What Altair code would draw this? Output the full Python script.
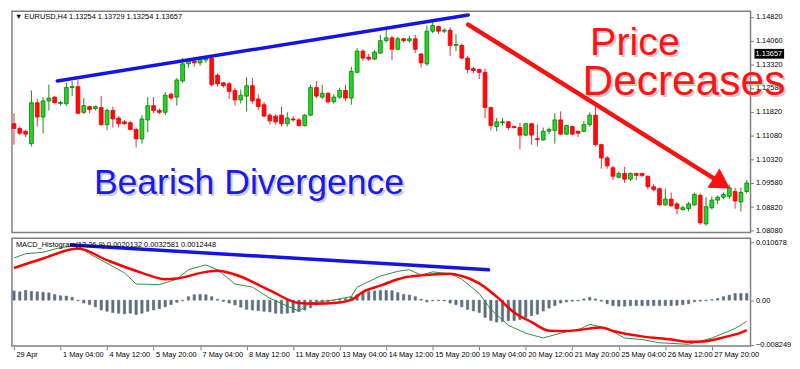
import altair as alt
import pandas as pd

# ---------------- data ----------------
bars = list(range(127))

opens = [1.1145, 1.1130, 1.1121, 1.1082, 1.1211, 1.1166, 1.1217, 1.1229, 1.1209, 1.1208,
         1.1259, 1.1262, 1.1181, 1.1199, 1.1193, 1.1196, 1.1142, 1.1187, 1.1163, 1.1151,
         1.1148, 1.1127, 1.1097, 1.1157, 1.1202, 1.1187, 1.1181, 1.1238, 1.1229, 1.1280,
         1.1334, 1.1343, 1.1337, 1.1346, 1.1352, 1.1298, 1.1274, 1.1271, 1.1250, 1.1220,
         1.1232, 1.1265, 1.1223, 1.1205, 1.1172, 1.1169, 1.1172, 1.1145, 1.1160, 1.1157,
         1.1139, 1.1172, 1.1259, 1.1229, 1.1241, 1.1214, 1.1229, 1.1250, 1.1226, 1.1307,
         1.1374, 1.1355, 1.1349, 1.1368, 1.1407, 1.1416, 1.1380, 1.1413, 1.1407, 1.1413,
         1.1365, 1.1334, 1.1437, 1.1452, 1.1437, 1.1440, 1.1392, 1.1392, 1.1352, 1.1319,
         1.1316, 1.1307, 1.1196, 1.1136, 1.1148, 1.1151, 1.1136, 1.1133, 1.1109, 1.1145,
         1.1098, 1.1094, 1.1121, 1.1124, 1.1157, 1.1112, 1.1136, 1.1121, 1.1121, 1.1142,
         1.1172, 1.1079, 1.1037, 1.1006, 1.0976, 1.0988, 1.0970, 1.0988, 1.0988, 1.0979,
         1.0946, 1.0940, 1.0889, 1.0907, 1.0892, 1.0874, 1.0877, 1.0889, 1.0919, 1.0829,
         1.0880, 1.0904, 1.0913, 1.0916, 1.0931, 1.0898, 1.0931]
highs = [1.1178, 1.1136, 1.1127, 1.1250, 1.1223, 1.1229, 1.1268, 1.1232, 1.1217, 1.1274,
         1.1280, 1.1283, 1.1226, 1.1202, 1.1202, 1.1232, 1.1193, 1.1199, 1.1169, 1.1157,
         1.1154, 1.1133, 1.1172, 1.1229, 1.1229, 1.1193, 1.1244, 1.1244, 1.1289, 1.1352,
         1.1352, 1.1349, 1.1355, 1.1359, 1.1359, 1.1304, 1.1277, 1.1277, 1.1259, 1.1253,
         1.1292, 1.1289, 1.1238, 1.1214, 1.1178, 1.1175, 1.1199, 1.1181, 1.1169, 1.1163,
         1.1175, 1.1268, 1.1280, 1.1268, 1.1244, 1.1238, 1.1259, 1.1268, 1.1325, 1.1383,
         1.1380, 1.1365, 1.1377, 1.1425, 1.1443, 1.1422, 1.1419, 1.1416, 1.1422, 1.1425,
         1.1368, 1.1455, 1.1467, 1.1455, 1.1446, 1.1449, 1.1428, 1.1398, 1.1359, 1.1325,
         1.1319, 1.1319, 1.1199, 1.1163, 1.1163, 1.1154, 1.1139, 1.1148, 1.1148, 1.1148,
         1.1142, 1.1133, 1.1133, 1.1178, 1.1184, 1.1142, 1.1139, 1.1124, 1.1154, 1.1181,
         1.1208, 1.1082, 1.1043, 1.1012, 1.0994, 1.1009, 1.0991, 1.0990, 1.0990, 1.0982,
         1.0955, 1.0943, 1.0940, 1.0928, 1.0898, 1.0886, 1.0898, 1.0928, 1.0925, 1.0913,
         1.0916, 1.0919, 1.0928, 1.0952, 1.0943, 1.0943, 1.0967]
lows = [1.1079, 1.1109, 1.1103, 1.1073, 1.1136, 1.1115, 1.1187, 1.1208, 1.1202, 1.1202,
        1.1232, 1.1175, 1.1175, 1.1178, 1.1187, 1.1139, 1.1124, 1.1133, 1.1133, 1.1142,
        1.1124, 1.1070, 1.1082, 1.1118, 1.1178, 1.1175, 1.1172, 1.1220, 1.1202, 1.1274,
        1.1322, 1.1325, 1.1328, 1.1337, 1.1262, 1.1262, 1.1259, 1.1223, 1.1202, 1.1208,
        1.1184, 1.1208, 1.1187, 1.1166, 1.1142, 1.1142, 1.1136, 1.1136, 1.1151, 1.1136,
        1.1136, 1.1169, 1.1226, 1.1223, 1.1208, 1.1208, 1.1223, 1.1217, 1.1205, 1.1304,
        1.1343, 1.1343, 1.1346, 1.1365, 1.1401, 1.1346, 1.1377, 1.1401, 1.1401, 1.1368,
        1.1322, 1.1328, 1.1431, 1.1428, 1.1431, 1.1359, 1.1374, 1.1349, 1.1304, 1.1304,
        1.1286, 1.1163, 1.1124, 1.1121, 1.1139, 1.1124, 1.1130, 1.1064, 1.1106, 1.1079,
        1.1073, 1.1091, 1.1112, 1.1082, 1.1109, 1.1109, 1.1109, 1.1103, 1.1118, 1.1136,
        1.1073, 1.1003, 1.1003, 1.0967, 1.0973, 1.0958, 1.0964, 1.0967, 1.0976, 1.0937,
        1.0931, 1.0886, 1.0886, 1.0883, 1.0859, 1.0871, 1.0868, 1.0886, 1.0826, 1.0823,
        1.0874, 1.0892, 1.0907, 1.0907, 1.0877, 1.0868, 1.0925]
closes = [1.1130, 1.1115, 1.1112, 1.1211, 1.1166, 1.1217, 1.1226, 1.1211, 1.1212, 1.1259,
          1.1262, 1.1178, 1.1202, 1.1190, 1.1199, 1.1142, 1.1187, 1.1160, 1.1145, 1.1145,
          1.1127, 1.1097, 1.1160, 1.1202, 1.1187, 1.1181, 1.1235, 1.1226, 1.1283, 1.1334,
          1.1343, 1.1337, 1.1349, 1.1352, 1.1268, 1.1271, 1.1265, 1.1247, 1.1220, 1.1235,
          1.1265, 1.1217, 1.1199, 1.1169, 1.1154, 1.1151, 1.1145, 1.1163, 1.1157, 1.1139,
          1.1172, 1.1259, 1.1232, 1.1241, 1.1214, 1.1229, 1.1250, 1.1226, 1.1310, 1.1374,
          1.1352, 1.1349, 1.1371, 1.1407, 1.1416, 1.1380, 1.1413, 1.1407, 1.1413, 1.1380,
          1.1337, 1.1437, 1.1455, 1.1437, 1.1440, 1.1392, 1.1395, 1.1352, 1.1316, 1.1313,
          1.1307, 1.1196, 1.1139, 1.1151, 1.1151, 1.1133, 1.1133, 1.1109, 1.1145, 1.1109,
          1.1095, 1.1121, 1.1127, 1.1157, 1.1112, 1.1139, 1.1112, 1.1115, 1.1142, 1.1172,
          1.1079, 1.1037, 1.1012, 1.0979, 1.0988, 1.0970, 1.0988, 1.0982, 1.0982, 1.0946,
          1.0937, 1.0889, 1.0907, 1.0886, 1.0877, 1.0880, 1.0892, 1.0922, 1.0832, 1.0883,
          1.0904, 1.0913, 1.0922, 1.0943, 1.0901, 1.0928, 1.0958]

hist = [0.00170, 0.00153, 0.00181, 0.00163, 0.00153, 0.00146, 0.00135, 0.00105, 0.00082, 0.00075,
        0.00053, -0.00009, -0.00053, -0.00082, -0.00123, -0.00181, -0.00205, -0.00228, -0.00240, -0.00251,
        -0.00240, -0.00263, -0.00240, -0.00205, -0.00181, -0.00158, -0.00123, -0.00082, -0.00040, -0.00009,
        0.00065, 0.00100, 0.00105, 0.00100, 0.00065, 0.00018, -0.00023, -0.00053, -0.00088, -0.00128,
        -0.00170, -0.00181, -0.00193, -0.00205, -0.00216, -0.00240, -0.00245, -0.00240, -0.00228, -0.00210,
        -0.00181, -0.00140, -0.00088, -0.00053, -0.00030, -0.00009, 0.00018, 0.00030, 0.00065, 0.00100,
        0.00135, 0.00158, 0.00170, 0.00181, 0.00181, 0.00175, 0.00140, 0.00105, 0.00093, 0.00065,
        0.00018, -0.00030, -0.00012, -0.00009, -0.00012, -0.00053, -0.00082, -0.00123, -0.00170, -0.00198,
        -0.00228, -0.00316, -0.00373, -0.00403, -0.00391, -0.00380, -0.00373, -0.00356, -0.00316, -0.00286,
        -0.00258, -0.00198, -0.00146, -0.00100, -0.00053, -0.00030, -0.00018, -0.00012, 0.00023, 0.00053,
        0.00023, -0.00018, -0.00065, -0.00100, -0.00110, -0.00110, -0.00100, -0.00100, -0.00100, -0.00100,
        -0.00100, -0.00100, -0.00100, -0.00100, -0.00093, -0.00082, -0.00065, -0.00030, -0.00018, -0.00012,
        0.00012, 0.00030, 0.00065, 0.00093, 0.00123, 0.00123, 0.00123]

macd_bars = [0, 2, 5, 8, 11, 13, 16, 19, 21, 25, 28, 30, 33, 35, 38, 41, 44, 47, 49, 51,
             55, 58, 59, 63, 66, 68, 70, 72, 75, 77, 80, 82, 85, 88, 91, 93, 95, 97, 99, 102,
             105, 108, 111, 116, 118, 120, 124, 126]
macd_vals = [0.00777, 0.00854, 0.00882, 0.00969, 0.00999, 0.00854, 0.00678, 0.00503, 0.00298, 0.00286,
             0.00386, 0.00561, 0.00649, 0.00561, 0.00298, 0.00240, 0.00035, -0.00110, -0.00198, -0.00053,
             0.00005, 0.00065, 0.00240, 0.00444, 0.00531, 0.00561, 0.00461, 0.00521, 0.00486, 0.00386,
             0.00123, -0.00170, -0.00461, -0.00608, -0.00696, -0.00636, -0.00578, -0.00549, -0.00444, -0.00521,
             -0.00696, -0.00724, -0.00784, -0.00812, -0.00754, -0.00696, -0.00521, -0.00391]

signal_bars = [0, 5, 11, 16, 22, 26, 28, 33, 35, 38, 44, 49, 52, 55, 58, 60, 63, 66, 67, 70,
               75, 77, 80, 83, 86, 89, 92, 95, 97, 101, 103, 108, 113, 116, 119, 122, 125, 126]
signal_vals = [0.00591, 0.00766, 0.00952, 0.00736, 0.00503, 0.00386, 0.00398, 0.00521, 0.00543, 0.00473,
               0.00181, -0.00053, -0.00065, -0.00053, 0.00005, 0.00153, 0.00268, 0.00386, 0.00415, 0.00456,
               0.00486, 0.00444, 0.00310, 0.00065, -0.00228, -0.00403, -0.00561, -0.00566, -0.00549, -0.00503,
               -0.00566, -0.00666, -0.00724, -0.00766, -0.00754, -0.00684, -0.00596, -0.00549]

price_ticks = [1.14820, 1.14060, 1.13320, 1.12580, 1.11820, 1.11080, 1.10320, 1.09580, 1.08820, 1.08080]
macd_ticks = [0.010678, 0.0, -0.008249]
time_tick_bars = [0, 8, 16, 24, 32, 40, 48, 56, 64, 72, 80, 88, 96, 104, 112, 120]
time_labels = ["29 Apr", "1 May 04:00", "4 May 12:00", "5 May 20:00", "7 May 04:00", "8 May 12:00",
               "11 May 20:00", "13 May 04:00", "14 May 12:00", "15 May 20:00", "19 May 04:00",
               "20 May 12:00", "21 May 20:00", "25 May 04:00", "26 May 12:00", "27 May 20:00"]
current_price = 1.13657
header_text = "\u25bc EURUSD,H4  1.13254 1.13729 1.13254 1.13657"
macd_text = "MACD_Histogram(12,26,9) 0.0020132 0.0032581 0.0012448"

# annotation anchors (bar index, price / macd value)
trend_price = {"x": [7.45], "x2": [78.1], "y": [1.1280], "y2": [1.1488]}
arrow_line = {"x": [78.1], "x2": [121.7], "y": [1.1458], "y2": [1.0957]}
arrow_head = {"x": [121.7], "y": [1.0957]}
trend_macd = {"x": [9.9], "x2": [81.6], "y": [0.01015], "y2": [0.00559]}
label_bearish = {"x": [40.4], "y": [1.0922], "t": ["Bearish Divergence"]}
label_price = {"x": [106.8], "y": [1.1362], "t": ["Price"]}
label_decr = {"x": [115.2], "y": [1.1235], "t": ["Decreases"]}

# ---------------- chart ----------------
W = 748
H1 = 224
H2 = 109
FONT = "Liberation Sans"

df = pd.DataFrame({"i": bars, "open": opens, "high": highs, "low": lows, "close": closes})
df["xl"] = df["i"] - 0.33
df["xr"] = df["i"] + 0.33
hdf = pd.DataFrame({"i": bars, "h": hist})
hdf["xl"] = hdf["i"] - 0.2
hdf["xr"] = hdf["i"] + 0.2

xs = alt.Scale(domain=[-0.35, 126.65], nice=False, zero=False)
ys = alt.Scale(domain=[1.0802, 1.1500], nice=False, zero=False)
ms = alt.Scale(domain=[-0.00842, 0.01138], nice=False, zero=False)

up = alt.datum.close >= alt.datum.open

price_axis = alt.Axis(orient="right", values=price_ticks, format=".5f", title=None, grid=False,
                      domain=False, tickSize=3, tickColor="#808080", labelPadding=2,
                      labelFont=FONT, labelFontSize=7.5, labelColor="#000000", labelOverlap=False)
time_expr = "[" + ",".join("'%s'" % s for s in time_labels) + "][round(datum.value/8)]"
x_axis = alt.Axis(orient="bottom", values=time_tick_bars, labelExpr=time_expr, title=None, grid=False,
                  domain=False, tickSize=4, tickColor="#808080", labelAlign="left", labelOffset=2,
                  labelPadding=1, labelFont=FONT, labelFontSize=7.5, labelColor="#000000",
                  labelOverlap=False, labelBound=False, labelFlush=False)
macd_axis = alt.Axis(orient="right", values=macd_ticks, title=None, grid=False, domain=False,
                     labelExpr="datum.value == 0 ? '0.00' : format(datum.value, '.6f')",
                     tickSize=3, tickColor="#808080", labelPadding=2, labelFont=FONT,
                     labelFontSize=7.5, labelColor="#000000", labelOverlap=False)

# main panel: x has no axis, y carries the price axis in every layer
def MX(field):
    return alt.X(field, scale=xs, axis=None)

def MY(field):
    return alt.Y(field, scale=ys, axis=price_axis)

wicks = alt.Chart(df).mark_rule(strokeWidth=1).encode(
    x=MX("i:Q"), y=MY("low:Q"), y2="high:Q",
    color=alt.condition(up, alt.value("#178a17"), alt.value("#e0304a")),
)
bodies = alt.Chart(df).mark_bar(strokeWidth=0.8).encode(
    x=MX("xl:Q"), x2="xr:Q", y=MY("open:Q"), y2="close:Q",
    fill=alt.condition(up, alt.value("#22d622"), alt.value("#ff0a0a")),
    stroke=alt.condition(up, alt.value("#0e7a0e"), alt.value("#ee0000")),
)

blue_main = alt.Chart(pd.DataFrame(trend_price)).mark_rule(color="#1414e6", strokeWidth=3.5, strokeCap="round").encode(
    x=MX("x:Q"), x2="x2:Q", y=MY("y:Q"), y2="y2:Q")
red_arrow = alt.Chart(pd.DataFrame(arrow_line)).mark_rule(color="#ff1010", strokeWidth=4.5, strokeCap="round").encode(
    x=MX("x:Q"), x2="x2:Q", y=MY("y:Q"), y2="y2:Q")
head = alt.Chart(pd.DataFrame(arrow_head)).mark_point(
    shape="triangle-right", filled=True, color="#ff1010", opacity=1, size=520, angle=32, strokeWidth=0
).encode(x=MX("x:Q"), y=MY("y:Q"))

def label(d, size, color):
    base = alt.Chart(pd.DataFrame(d))
    shadow = base.mark_text(font=FONT, fontSize=size, color="#9a9a9a", opacity=0.5, dx=2, dy=2,
                            align="center", baseline="alphabetic").encode(
        x=MX("x:Q"), y=MY("y:Q"), text="t:N")
    txt = base.mark_text(font=FONT, fontSize=size, color=color,
                         align="center", baseline="alphabetic").encode(
        x=MX("x:Q"), y=MY("y:Q"), text="t:N")
    return [shadow, txt]

bearish = label(label_bearish, 36, "#1a1aee")
price_lbl = label(label_price, 40, "#ff1414")
decr_lbl = label(label_decr, 43, "#ff1414")

header = alt.Chart(pd.DataFrame({"t": [header_text]})).mark_text(
    font=FONT, fontSize=7.5, align="left", baseline="middle", color="#000000"
).encode(x=alt.value(3), y=alt.value(6), text="t:N")

cp = pd.DataFrame({"p": [current_price], "t": ["%.5f" % current_price]})
cp_box = alt.Chart(cp).mark_point(
    shape="M-1,-0.33L1,-0.33L1,0.33L-1,0.33Z", filled=True, color="#000000", opacity=1, size=900, strokeWidth=0
).encode(x=alt.value(W + 19), y=MY("p:Q"))
cp_txt = alt.Chart(cp).mark_text(font=FONT, fontSize=7.5, align="left", baseline="middle", color="#ffffff").encode(
    x=alt.value(W + 5), y=MY("p:Q"), text="t:N")

main = alt.layer(wicks, bodies, blue_main, red_arrow, head, *bearish, *price_lbl, *decr_lbl,
                 header, cp_box, cp_txt).properties(width=W, height=H1)

# MACD panel: time axis and macd axis carried by every layer
def BX(field):
    return alt.X(field, scale=xs, axis=x_axis)

def BY(field):
    return alt.Y(field, scale=ms, axis=macd_axis)

hbars = alt.Chart(hdf).mark_bar(color="#5d6d7e", stroke="#5d6d7e", strokeWidth=0.6).encode(
    x=BX("xl:Q"), x2="xr:Q", y=BY("h:Q"), y2=alt.datum(0))
green = alt.Chart(pd.DataFrame({"i": macd_bars, "v": macd_vals})).mark_line(
    color="#2f8f45", strokeWidth=1).encode(x=BX("i:Q"), y=BY("v:Q"))
red = alt.Chart(pd.DataFrame({"i": signal_bars, "v": signal_vals})).mark_line(
    color="#ff0000", strokeWidth=2.5, interpolate="monotone").encode(x=BX("i:Q"), y=BY("v:Q"))
blue_macd = alt.Chart(pd.DataFrame(trend_macd)).mark_rule(color="#1414e6", strokeWidth=3.5, strokeCap="round").encode(
    x=BX("x:Q"), x2="x2:Q", y=BY("y:Q"), y2="y2:Q")
macd_lbl = alt.Chart(pd.DataFrame({"t": [macd_text]})).mark_text(
    font=FONT, fontSize=7.5, align="left", baseline="middle", color="#000000"
).encode(x=alt.value(4), y=alt.value(7), text="t:N")

macd = alt.layer(hbars, green, red, blue_macd, macd_lbl).properties(width=W, height=H2)

chart = alt.vconcat(main, macd, spacing=2).properties(
    padding={"left": 0, "top": 0, "right": 0, "bottom": 0}, background="#ffffff"
).configure_view(stroke="#808080", strokeWidth=1.5)

chart.save("out.html", embed_options={"renderer": "svg", "actions": False})
